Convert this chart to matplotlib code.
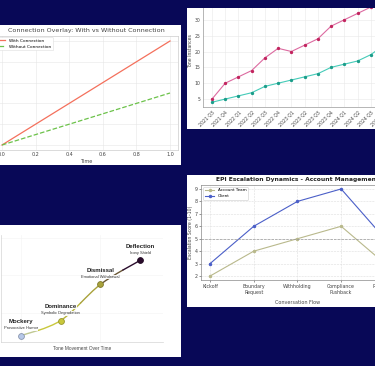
import numpy as np
import matplotlib.pyplot as plt
from matplotlib.patches import Rectangle, PathPatch
from matplotlib.path import Path
from matplotlib.colors import to_rgb

W, H = 375, 366
NAVY = '#080857'

# top left: connection overlay
time_pts = [0.0, 1.0]
with_conn = [0.0, 1.0]
without_conn = [0.0, 0.5]

# top right: tone instances per quarter
quarters = ['2021 Q3', '2021 Q4', '2022 Q1', '2022 Q2', '2022 Q3', '2022 Q4',
            '2023 Q1', '2023 Q2', '2023 Q3', '2023 Q4', '2024 Q1', '2024 Q2',
            '2024 Q3', '2024 Q4']
pink_counts = [5, 10, 12, 14, 18, 21, 20, 22, 24, 28, 30, 32, 34, 36]
teal_counts = [4, 5, 6, 7, 9, 10, 11, 12, 13, 15, 16, 17, 19, 22]

# bottom left: tone movement
tones = ['Mockery', 'Dominance', 'Dismissal', 'Deflection']
tone_subs = ['Provocative Humor', 'Symbolic Degradation', 'Emotional Withdrawal', 'Irony Shield']
tone_level = [1.0, 2.0, 4.4, 6.0]
tone_colors = ['#b7c8e8', '#c9c83c', '#a9a23b', '#2a0c2c']

# bottom right: escalation
stages = ['Kickoff', 'Boundary\nRequest', 'Withholding', 'Compliance\nPushback', 'Resolution']
account_team = [2, 4, 5, 6, 3]
client = [3, 6, 8, 9, 5]


def box(x0, y0, x1, y1):
    # pixel box, origin top left -> figure fraction
    return [x0 / W, 1 - y1 / H, (x1 - x0) / W, (y1 - y0) / H]


def panel(fig, x0, y0, x1, y1, color='white', z=-1):
    r = Rectangle((x0 / W, 1 - y1 / H), (x1 - x0) / W, (y1 - y0) / H,
                  transform=fig.transFigure, facecolor=color,
                  edgecolor='none', zorder=z)
    fig.add_artist(r)


def split_half(p0, c1, c2, p1):
    # de Casteljau split of a cubic at t = 0.5
    a = (p0 + c1) / 2
    b = (c1 + c2) / 2
    c = (c2 + p1) / 2
    d = (a + b) / 2
    e = (b + c) / 2
    m = (d + e) / 2
    return (p0, a, d, m), (m, e, c, p1)


fig = plt.figure(figsize=(W / 100, H / 100), dpi=100, facecolor=NAVY)

panel(fig, 0, 25, 181, 165)
panel(fig, 187, 8, 375, 129)
panel(fig, 0, 225, 181, 357)
panel(fig, 187, 175, 375, 307)

# ---------------- panel 1
ax1 = fig.add_axes(box(-6.4, 35.8, 178.4, 150.2))
ax1.plot(time_pts, with_conn, color='#f4705c', lw=0.9, label='With Connection')
ax1.plot(time_pts, without_conn, color='#6cc24a', lw=0.9, ls='--',
         label='Without Connection')
ax1.set_title('Connection Overlay: With vs Without Connection', fontsize=4.6,
              color='#444444', pad=2.5)
ax1.set_xlabel('Time', fontsize=3.6, color='#444444', labelpad=1)
ax1.set_xticks([0, 0.2, 0.4, 0.6, 0.8, 1.0])
ax1.tick_params(labelsize=3.5, length=0, pad=1.5, colors='#444444')
ax1.tick_params(axis='y', pad=4)
ax1.grid(True, color='#e6e6e6', lw=0.4)
for s in ax1.spines.values():
    s.set_color('#cccccc')
    s.set_linewidth(0.5)
leg1 = ax1.legend(loc='upper left', fontsize=3.1, frameon=True, framealpha=1,
                  edgecolor='#dddddd', borderpad=0.4, handlelength=2.0,
                  bbox_to_anchor=(-0.005, 1.01))
leg1.get_frame().set_linewidth(0.4)

# ---------------- panel 2
ax2 = fig.add_axes(box(203.4, -4.3, 392.6, 107.3))
xq = np.arange(len(quarters))
ax2.plot(xq, pink_counts, color='#dc6aa0', lw=0.8, marker='o', ms=1.4,
         mfc='#c2255f', mec='#c2255f')
ax2.plot(xq, teal_counts, color='#45cbb8', lw=0.8, marker='o', ms=1.4,
         mfc='#1c9d8a', mec='#1c9d8a')
ax2.set_xticks(xq)
ax2.set_xticklabels(quarters, rotation=45, ha='right', rotation_mode='anchor')
ax2.set_yticks([5, 10, 15, 20, 25, 30, 35])
ax2.set_ylabel('Tone Instances', fontsize=3.3, color='#444444', labelpad=1)
ax2.tick_params(labelsize=3.3, length=0, pad=2, colors='#444444')
ax2.grid(True, color='#e8e8e8', lw=0.4)
for s in ax2.spines.values():
    s.set_color('#999999')
    s.set_linewidth(0.5)

# ---------------- panel 3
ax3 = fig.add_axes(box(1.3, 235, 163.3, 341.7))
xt = np.arange(len(tones))
pts = np.column_stack([xt, tone_level]).astype(float)
n = len(pts)
for i in range(n - 1):
    prev = pts[max(i - 1, 0)]
    nxt2 = pts[min(i + 2, n - 1)]
    c1 = pts[i] + (pts[i + 1] - prev) / 6
    c2 = pts[i + 1] - (nxt2 - pts[i]) / 6
    first, second = split_half(pts[i], c1, c2, pts[i + 1])
    mix = (np.array(to_rgb(tone_colors[i])) + np.array(to_rgb(tone_colors[i + 1]))) / 2
    for part, col in ((first, mix), (second, tone_colors[i + 1])):
        path = Path(np.array(part), [Path.MOVETO, Path.CURVE4, Path.CURVE4, Path.CURVE4])
        ax3.add_patch(PathPatch(path, facecolor='none', edgecolor=col, lw=1.0,
                                capstyle='round', zorder=2))
for i in range(n):
    edge = np.array(to_rgb(tone_colors[i])) * 0.75
    ax3.plot(xt[i], tone_level[i], 'o', ms=4.2, color=tone_colors[i],
             mec=edge, mew=0.6, zorder=5)
    ax3.annotate(tones[i], (xt[i], tone_level[i]), xytext=(0, 10.2),
                 textcoords='offset points', ha='center', va='center',
                 fontsize=4.3, fontweight='bold', color='#222222',
                 family=['Liberation Sans', 'DejaVu Sans'], zorder=4,
                 bbox=dict(facecolor='white', edgecolor='none', alpha=0.9, pad=0.2))
    ax3.annotate(tone_subs[i], (xt[i], tone_level[i]), xytext=(0, 5.3),
                 textcoords='offset points', ha='center', va='center',
                 fontsize=2.9, color='#333333',
                 family=['Liberation Sans', 'DejaVu Sans'], zorder=4,
                 bbox=dict(facecolor='white', edgecolor='none', alpha=0.9, pad=0.2))
ax3.set_xlim(-0.49, 3.58)
ax3.set_ylim(0.6, 7.68)
ax3.set_xlabel('Tone Movement Over Time', fontsize=3.4, color='#444444',
               labelpad=3, family=['Liberation Sans', 'DejaVu Sans'])
ax3.tick_params(left=False, bottom=False, labelleft=False, labelbottom=False)
ax3.grid(True, color='#f3f3f3', lw=0.4)
ax3.spines['top'].set_visible(False)
ax3.spines['right'].set_visible(False)
for k in ('left', 'bottom'):
    ax3.spines[k].set_color('#d4d4d4')
    ax3.spines[k].set_linewidth(0.5)

# ---------------- panel 4
ax4 = fig.add_axes(box(201.3, 184.6, 393.6, 280.4))
xs = np.arange(len(stages))
ax4.plot(xs, account_team, color='#b9b98c', lw=0.8, marker='o', ms=1.5,
         label='Account Team')
ax4.plot(xs, client, color='#4b5fc8', lw=0.8, marker='o', ms=1.5,
         label='Client')
ax4.axhline(5, color='#999999', ls='--', lw=0.5)
ax4.set_xticks(xs)
ax4.set_xticklabels(stages)
ax4.set_yticks(range(2, 10))
ax4.set_title('EPI Escalation Dynamics - Account Management', fontsize=4.3,
              fontweight='bold', color='#222222', pad=2.5)
ax4.set_xlabel('Conversation Flow', fontsize=3.5, color='#444444', labelpad=4)
ax4.set_ylabel('Escalation Score (1-10)', fontsize=3.3, color='#444444', labelpad=1)
ax4.tick_params(labelsize=3.4, length=1.2, width=0.4, pad=1.2, colors='#444444')
ax4.grid(True, color='#dddddd', lw=0.4, ls='--')
for s in ax4.spines.values():
    s.set_color('#888888')
    s.set_linewidth(0.5)
leg = ax4.legend(loc='upper left', fontsize=3, frameon=True, framealpha=1,
                 edgecolor='#cccccc', borderpad=0.4, handlelength=2.2)
leg.get_frame().set_linewidth(0.4)

# crop mask above top right panel
panel(fig, 183, 0, 375, 8, color=NAVY, z=10)

fig.savefig('out.png', dpi=100, facecolor=NAVY)
